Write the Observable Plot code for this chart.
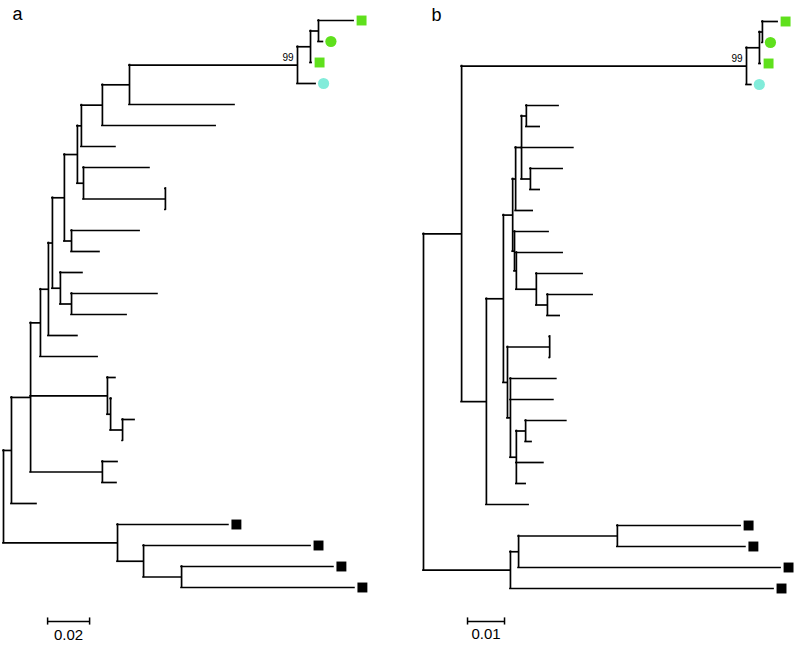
<!DOCTYPE html>
<html><head><meta charset="utf-8">
<script src="https://cdn.jsdelivr.net/npm/d3@7"></script>
<script src="https://cdn.jsdelivr.net/npm/@observablehq/plot@0.6"></script>
<style>
body{margin:0;background:#fff;}
#wrap{display:flex;width:794px;height:646px;}
#wrap > div{width:397px;height:646px;}
svg{display:block;}
</style></head><body><div id="wrap"><div id="pa"></div><div id="pb"></div></div>
<script>
// ---------- Panel a tree (node, parent, distance from root) ----------
const aNodes = ["root","n11","n30","n40","n48","n52","n64","n77","n81","n102","n129","n99","n310","n318","a0","a1","a2","a3","a4","a5","a6","n83","a7","n165","a8","a9","n71a","a10","a11","n60","a12","n71b","a13","a14","a15","a16","n107","a17","n110","a18","n122","a19","a20","n102b","a21","a22","a23","n117","a24","n143","a25","n181","a26","a27"];
const aParents = [null,"root","n11","n30","n40","n48","n52","n64","n77","n81","n102","n129","n99","n310","n318","n318","n310","n99","n129","n102","n81","n77","n83","n83","n165","n165","n64","n71a","n71a","n52","n60","n60","n71b","n71b","n48","n40","n30","n107","n107","n110","n110","n122","n122","n30","n102b","n102b","n11","root","n117","n117","n143","n143","n181","n181"];
const aDepths = [0,0.0038,0.0129,0.0176,0.0214,0.0233,0.0290,0.0352,0.0371,0.0471,0.0600,0.1400,0.1462,0.1500,0.1667,0.1521,0.1467,0.1486,0.1100,0.1010,0.0533,0.0381,0.0695,0.0771,0.0771,0.0771,0.0324,0.0648,0.0457,0.0271,0.0376,0.0324,0.0733,0.0586,0.0352,0.0448,0.0495,0.0533,0.0510,0.0514,0.0567,0.0624,0.0567,0.0471,0.0543,0.0538,0.0157,0.0543,0.1071,0.0667,0.1462,0.0848,0.1571,0.1671];
const aMarkLeaf  = ["a0","a1","a2","a3","a24","a25","a26","a27"];
const aMarkGroup = ["lineage 1","lineage 2","lineage 1","lineage 3","outgroup","outgroup","outgroup","outgroup"];
const aSupportNode = ["n99"];
const aSupportText = ["99"];

// ---------- Panel b tree ----------
const bNodes = ["root","n461","n99","nA","nB","b0","b1","b2","b3","n486","n503","n512","n515","n521","n526","b4","b5","b6","n530","b7","b8","b9","nX","b10","nY","b11","n536","b12","n547","b13","b14","n507","n549","b15","b16","n510","b17","b18","n516","n525","b19","b20","b21","b22","b23","n510b","n518","n617","b24","b25","b26","b27"];
const bParents = [null,"root","n461","n99","nA","nB","nB","nA","n99","n461","n486","n503","n512","n515","n521","n526","n526","n521","n521","n530","n530","n515","n512","nX","nX","nY","nY","n536","n536","n547","n547","n503","n507","n549","n549","n507","n510","n510","n510","n516","n525","n525","n516","n516","n486","root","n510b","n518","n617","n617","n518","n510b"];
const bDepths = [0,0.0103,0.0873,0.0908,0.0916,0.0957,0.0916,0.0911,0.0886,0.0170,0.0216,0.0241,0.0249,0.0265,0.0278,0.0365,0.0314,0.0405,0.0289,0.0376,0.0314,0.0295,0.0246,0.0338,0.0251,0.0376,0.0305,0.0430,0.0335,0.0457,0.0368,0.0227,0.0341,0.0341,0.0341,0.0235,0.0359,0.0351,0.0251,0.0276,0.0386,0.0292,0.0324,0.0276,0.0284,0.0235,0.0257,0.0524,0.0857,0.0870,0.0965,0.0946];
const bMarkLeaf  = ["b0","b1","b2","b3","b24","b25","b26","b27"];
const bMarkGroup = ["lineage 1","lineage 2","lineage 1","lineage 3","outgroup","outgroup","outgroup","outgroup"];
const bSupportNode = ["n99"];
const bSupportText = ["99"];

// ---------- legend groups / scale bars / panel labels ----------
const groups = ["lineage 1","lineage 2","lineage 3","outgroup"];
const panelLabels = ["a","b"];
const scaleLengths = [0.02, 0.01];
const scaleLabels = ["0.02","0.01"];

const groupColors = ["#5fe01c","#5fe01c","#82ecda","#000000"];
const groupSymbols = ["square","circle","circle","square"];
const FONT = "'Liberation Sans', Arial, Helvetica, sans-serif";

function layout(nodes, parents, depths) {
  const byId = new Map();
  nodes.forEach((id, i) => byId.set(id, {id, parent: parents[i], depth: depths[i], children: []}));
  let root;
  for (const n of byId.values()) {
    if (n.parent == null) root = n; else byId.get(n.parent).children.push(n);
  }
  let row = 0;
  (function visit(n) {
    if (!n.children.length) n.y = row++;
    else { n.children.forEach(visit); n.y = (n.children[0].y + n.children[n.children.length - 1].y) / 2; }
  })(root);
  const horiz = [], vert = [];
  for (const n of byId.values()) {
    if (n.parent != null) horiz.push({x1: byId.get(n.parent).depth, x2: n.depth, y: n.y});
    if (n.children.length) vert.push({x: n.depth, y1: n.children[0].y, y2: n.children[n.children.length - 1].y});
  }
  return {byId, horiz, vert, rows: row};
}

function panel(o) {
  const t = layout(o.nodes, o.parents, o.depths);
  const marks = o.markLeaf.map((id, i) => ({x: t.byId.get(id).depth, y: t.byId.get(id).y, group: o.markGroup[i]}));
  const supports = o.supportNode.map((id, i) => ({x: t.byId.get(id).depth, y: t.byId.get(id).y, text: o.supportText[i]}));
  const bar = [{x1: o.barStart, x2: o.barStart + o.barLen, y: o.barRow, label: o.barText}];
  return Plot.plot({
    width: 397, height: 646, margin: 0,
    x: {domain: [0, o.xMax], range: o.xRange, axis: null},
    y: {domain: [0, t.rows - 1], range: o.yRange, axis: null},
    color: {domain: groups, range: groupColors},
    symbol: {domain: groups, range: groupSymbols},
    style: {fontFamily: FONT, background: "white", overflow: "visible"},
    marks: [
      Plot.ruleY(t.horiz, {x1: "x1", x2: "x2", y: "y", stroke: "black", strokeWidth: 1.7, strokeLinecap: "square"}),
      Plot.ruleX(t.vert, {x: "x", y1: "y1", y2: "y2", stroke: "black", strokeWidth: 1.7, strokeLinecap: "square"}),
      Plot.dot(marks, {x: "x", y: "y", dx: 8, symbol: "group", fill: "group", r: 5.6, stroke: null}),
      Plot.text(supports, {x: "x", y: "y", text: "text", dx: -4, dy: -4, textAnchor: "end", lineAnchor: "bottom", fontSize: 10, fill: "black"}),
      Plot.ruleY(bar, {x1: "x1", x2: "x2", y: "y", stroke: "black", strokeWidth: 1.5}),
      Plot.ruleX(bar, {x: "x1", y1: d => d.y - 0.17, y2: d => d.y + 0.17, stroke: "black", strokeWidth: 1.5}),
      Plot.ruleX(bar, {x: "x2", y1: d => d.y - 0.17, y2: d => d.y + 0.17, stroke: "black", strokeWidth: 1.5}),
      Plot.text(bar, {x: d => (d.x1 + d.x2) / 2, y: "y", text: "label", dy: 18, lineAnchor: "bottom", fontSize: 15, fill: "black"}),
      Plot.text([o.label], {frameAnchor: "top-left", text: d => d, dx: o.labelDx, dy: o.labelDy, textAnchor: "start", lineAnchor: "top", fontSize: 18, fill: "black"})
    ]
  });
}

document.getElementById("pa").append(panel({
  nodes: aNodes, parents: aParents, depths: aDepths,
  markLeaf: aMarkLeaf, markGroup: aMarkGroup,
  supportNode: aSupportNode, supportText: aSupportText,
  xMax: 0.18, xRange: [3, 3 + 0.18 * 2100], yRange: [20, 587],
  barStart: 0.021, barLen: scaleLengths[0], barText: scaleLabels[0], barRow: 28.62,
  label: panelLabels[0], labelDx: 12, labelDy: 7
}));
document.getElementById("pb").append(panel({
  nodes: bNodes, parents: bParents, depths: bDepths,
  markLeaf: bMarkLeaf, markGroup: bMarkGroup,
  supportNode: bSupportNode, supportText: bSupportText,
  xMax: 0.1, xRange: [26, 26 + 0.1 * 3700], yRange: [21, 588],
  barStart: 0.0119, barLen: scaleLengths[1], barText: scaleLabels[1], barRow: 28.57,
  label: panelLabels[1], labelDx: 34, labelDy: 8
}));
</script></body></html>
